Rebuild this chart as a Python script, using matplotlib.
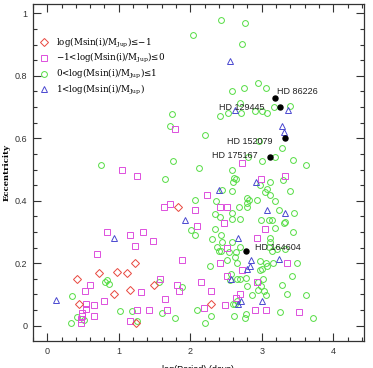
import matplotlib
matplotlib.use("Agg")
import matplotlib.pyplot as plt
from matplotlib.ticker import MultipleLocator
from matplotlib.lines import Line2D

plt.rcParams['mathtext.fontset'] = 'dejavuserif'

# ---- data: log(Period/days), eccentricity ----
red_x = [0.42, 0.45, 0.73, 0.93, 0.98, 1.11, 1.16, 1.23, 1.24, 1.49, 1.83, 2.29]
red_y = [0.15, 0.07, 0.17, 0.10, 0.173, 0.17, 0.115, 0.20, 0.01, 0.13, 0.38, 0.07]

mag_x = [0.84, 1.15, 1.34, 1.23, 1.48, 0.69, 1.88, 1.63, 1.72, 1.58, 0.60, 0.53, 1.81, 1.84,
         0.80, 1.31, 1.64, 0.65, 0.54, 0.54, 0.48, 0.49, 0.47, 0.47, 0.66, 1.26, 1.42, 1.68,
         1.16, 1.04, 1.25, 1.79, 2.23, 2.07, 2.41, 2.52, 2.47, 2.09, 2.52, 2.41, 2.94, 3.05,
         3.35, 2.72, 2.51, 2.15, 2.93, 2.29, 2.69, 2.64, 2.49, 2.19, 2.91, 3.06, 3.52, 2.72,
         2.99, 3.33]
mag_y = [0.30, 0.29, 0.30, 0.254, 0.27, 0.23, 0.21, 0.38, 0.39, 0.15, 0.13, 0.11, 0.13, 0.11,
         0.08, 0.107, 0.086, 0.066, 0.07, 0.054, 0.04, 0.03, 0.02, 0.008, 0.03, 0.05, 0.05, 0.051,
         0.014, 0.50, 0.48, 0.63, 0.42, 0.37, 0.38, 0.38, 0.33, 0.32, 0.25, 0.20, 0.28, 0.31,
         0.20, 0.177, 0.16, 0.14, 0.14, 0.112, 0.10, 0.09, 0.065, 0.057, 0.051, 0.051, 0.044, 0.52,
         0.47, 0.48]

grn_x = [1.74, 1.71, 0.75, 1.76, 1.64, 2.43, 2.77, 2.04, 2.72, 2.95, 2.58, 2.75, 3.06, 2.70,
         3.17, 3.40, 2.53, 2.71, 2.90, 3.00, 3.07, 2.41, 2.21, 3.28, 2.96, 3.18, 2.81, 3.00,
         3.43, 3.62, 2.12, 2.58, 2.61, 2.64, 2.60, 2.97, 3.12, 3.29,
         3.08, 3.05, 3.11, 3.39, 2.80, 2.82, 2.93, 3.18, 2.68, 2.80, 2.80, 3.24, 3.45, 2.70,
         2.99, 3.10, 3.15, 3.32,
         2.59, 2.44, 2.06, 2.36, 2.34, 2.41, 2.59, 2.58,
         3.19, 3.31, 3.44, 3.11, 2.01, 2.07, 2.35, 2.43, 2.30, 2.44, 2.58, 2.38, 2.40, 2.43,
         2.54, 2.64, 2.70, 2.63, 2.51, 2.65, 2.27, 2.97, 3.06, 3.07, 3.16, 3.10, 3.11, 3.14,
         3.21, 3.33, 3.49, 3.42, 3.28, 3.35, 3.62, 3.71, 3.25,
         2.98, 3.01, 3.02, 2.95, 2.99, 2.95, 3.03, 3.06, 2.86, 2.80, 2.78, 2.65, 2.69, 2.57, 2.55,
         2.60, 2.63, 2.65, 2.61, 2.78, 2.77, 2.29, 2.20, 2.10, 1.88,
         1.56, 1.60, 1.78,
         0.35, 0.33, 0.41, 0.52, 0.81, 0.83, 0.86, 1.02, 1.19, 1.25]
grn_y = [0.677, 0.639, 0.516, 0.528, 0.469, 0.978, 0.970, 0.932, 0.902, 0.778, 0.750, 0.760, 0.760, 0.712,
         0.700, 0.702, 0.680, 0.680, 0.689, 0.689, 0.680, 0.670, 0.610, 0.570, 0.590, 0.541, 0.541, 0.526,
         0.529, 0.516, 0.505, 0.500, 0.472, 0.469, 0.461, 0.450, 0.461, 0.465,
         0.438, 0.428, 0.418, 0.43, 0.41, 0.404, 0.401, 0.40, 0.38, 0.381, 0.392, 0.37, 0.36, 0.341,
         0.34, 0.34, 0.34, 0.332,
         0.431, 0.433, 0.401, 0.40, 0.357, 0.349, 0.36, 0.341,
         0.314, 0.33, 0.30, 0.28, 0.306, 0.29, 0.31, 0.29, 0.277, 0.269, 0.269, 0.253, 0.239, 0.239,
         0.235, 0.237, 0.253, 0.22, 0.209, 0.20, 0.19, 0.207, 0.20, 0.19, 0.20, 0.251, 0.268, 0.239,
         0.244, 0.244, 0.20, 0.159, 0.13, 0.10, 0.098, 0.026, 0.045,
         0.177, 0.182, 0.149, 0.139, 0.127, 0.114, 0.11, 0.098, 0.098, 0.127, 0.152, 0.15, 0.15, 0.164, 0.146,
         0.07, 0.07, 0.079, 0.03, 0.036, 0.024, 0.03, 0.01, 0.05, 0.125,
         0.14, 0.042, 0.026,
         0.095, 0.008, 0.029, 0.018, 0.141, 0.146, 0.132, 0.048, 0.047, 0.015]

blu_x = [0.12, 0.93, 1.92, 2.40, 3.08, 3.33, 2.67, 2.85, 2.83, 2.79, 3.24, 2.57, 2.71, 2.67,
         3.00, 2.55, 2.63, 3.37, 3.28, 3.31, 2.92]
blu_y = [0.083, 0.28, 0.34, 0.436, 0.37, 0.36, 0.28, 0.21, 0.19, 0.18, 0.215, 0.15, 0.08, 0.07,
         0.08, 0.847, 0.69, 0.69, 0.64, 0.62, 0.46]

star_names = ["HD 86226", "HD 129445", "HD 152079", "HD 175167", "HD 164604"]
star_x = [3.19, 3.26, 3.32, 3.11, 2.78]
star_y = [0.73, 0.70, 0.60, 0.54, 0.24]

legend_labels = [r'log(Msin(i)/M$_{\mathrm{Jup}}$)≤−1',
                 r'−1<log(Msin(i)/M$_{\mathrm{Jup}}$)≤0',
                 r'0<log(Msin(i)/M$_{\mathrm{Jup}}$)≤1',
                 r'1<log(Msin(i)/M$_{\mathrm{Jup}}$)']

RED = '#e8463e'
MAG = '#dd4fdd'
GRN = '#55dd44'
BLU = '#4a48d0'

fig = plt.figure(figsize=(3.73, 3.68), dpi=100)
ax = fig.add_axes([33/373, 1 - 341/368, 331/373, 337/368])

mew = 0.7
ax.plot(grn_x, grn_y, 'o', ms=4.2, mfc='none', mec=GRN, mew=mew, ls='none')
ax.plot(mag_x, mag_y, 's', ms=3.8, mfc='none', mec=MAG, mew=mew, ls='none')
ax.plot(red_x, red_y, 'D', ms=3.6, mfc='none', mec=RED, mew=mew, ls='none')
ax.plot(blu_x, blu_y, '^', ms=4.4, mfc='none', mec=BLU, mew=mew, ls='none')
ax.plot(star_x, star_y, 'o', ms=3.6, color='black', ls='none', zorder=5)

lab_font = dict(family=['Liberation Sans', 'DejaVu Sans'], fontsize=6.5, color='#222222', zorder=6)
offsets = [(0.025, 0.02), (-0.86, 0.0), (-0.81, -0.011), (-0.81, 0.005), (0.12, 0.01)]
for name, sx, sy, (dx, dy) in zip(star_names, star_x, star_y, offsets):
    ax.text(sx + dx, sy + dy, name, ha='left', va='center', **lab_font)

ax.set_xlim(-0.2, 4.43)
ax.set_ylim(-0.049, 1.03)
ax.xaxis.set_major_locator(MultipleLocator(1))
ax.xaxis.set_minor_locator(MultipleLocator(0.2))
ax.yaxis.set_major_locator(MultipleLocator(0.2))
ax.yaxis.set_minor_locator(MultipleLocator(0.05))
ax.tick_params(which='both', direction='in', top=True, right=True, colors='#333333')
ax.tick_params(which='major', length=6, width=0.8, labelsize=6.5, pad=4)
ax.tick_params(which='minor', length=3, width=0.8)
ax.xaxis.set_major_formatter(plt.FuncFormatter(lambda v, p: f"{v:g}"))
ax.yaxis.set_major_formatter(plt.FuncFormatter(lambda v, p: f"{v:g}"))
for lbl in ax.get_xticklabels() + ax.get_yticklabels():
    lbl.set_family(['Liberation Sans', 'DejaVu Sans'])
for s in ax.spines.values():
    s.set_linewidth(0.9)
    s.set_color('#333333')

ax.set_xlabel('log(Period) (days)', fontsize=6.5, family=['Liberation Sans', 'DejaVu Sans'], labelpad=7)
ax.set_ylabel('Eccentricity', fontsize=6, family=['DejaVu Serif'], fontweight='bold', labelpad=3)

handles = [Line2D([], [], marker='D', ms=3.6, mfc='none', mec=RED, mew=mew, ls='none'),
           Line2D([], [], marker='s', ms=3.8, mfc='none', mec=MAG, mew=mew, ls='none'),
           Line2D([], [], marker='o', ms=4.2, mfc='none', mec=GRN, mew=mew, ls='none'),
           Line2D([], [], marker='^', ms=4.4, mfc='none', mec=BLU, mew=mew, ls='none')]
ax.legend(handles, legend_labels, loc='upper left', bbox_to_anchor=(0.02, 0.906),
          frameon=False, handlelength=1.0, handletextpad=0.9, labelspacing=0.18,
          borderaxespad=0, borderpad=0,
          prop={'family': 'DejaVu Serif', 'size': 6.3})

fig.savefig('out.png', dpi=100)
